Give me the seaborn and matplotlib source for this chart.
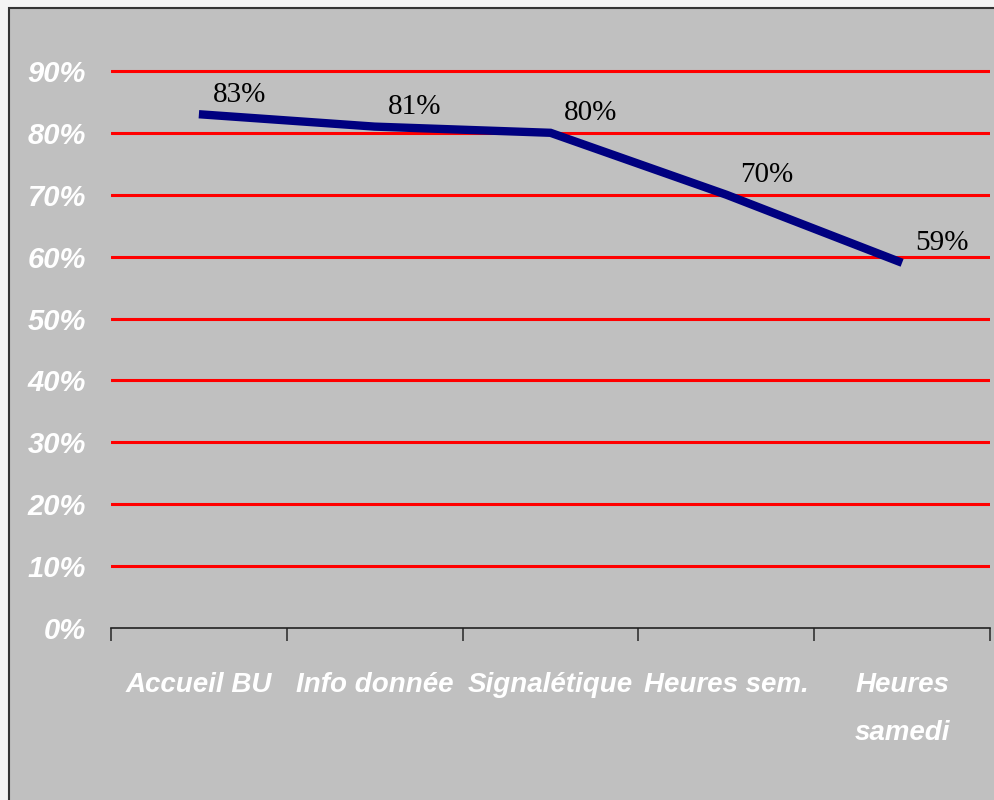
import matplotlib
matplotlib.use("Agg")
import matplotlib.pyplot as plt
import seaborn as sns
import pandas as pd
import numpy as np
from matplotlib.patches import Rectangle
from matplotlib.ticker import FixedLocator

categories = ["Accueil BU", "Info donnée", "Signalétique", "Heures sem.", "Heures\nsamedi"]
values = [0.83, 0.81, 0.80, 0.70, 0.59]
value_labels = ["83%", "81%", "80%", "70%", "59%"]
y_ticks = [0.0, 0.1, 0.2, 0.3, 0.4, 0.5, 0.6, 0.7, 0.8, 0.9]
y_tick_labels = ["0%", "10%", "20%", "30%", "40%", "50%", "60%", "70%", "80%", "90%"]

sns.set_theme(style="white")
plt.rcParams['font.family'] = ['Liberation Sans', 'DejaVu Sans']

W, H = 994, 800
fig = plt.figure(figsize=(W / 100, H / 100), dpi=100)
fig.patch.set_facecolor("#f3f3f3")

# plot-area frame
frame = Rectangle((9 / W, -0.05), 1.1, (H - 8) / H + 0.05, transform=fig.transFigure,
                  facecolor="#c0c0c0", edgecolor="#333333", linewidth=1.5, zorder=-10)
fig.patches.append(frame)

ymax = 0.95
y0 = 628
ytop = y0 - ymax * 619
ax = fig.add_axes([111 / W, (H - y0) / H, (990 - 111) / W, (y0 - ytop) / H])
ax.set_zorder(5)
ax.patch.set_alpha(0)

df = pd.DataFrame({"pos": np.arange(len(categories)), "value": values})

# red gridlines
for yv in y_ticks[1:]:
    ax.axhline(yv, color="#ff0000", linewidth=2.2, zorder=1)

sns.lineplot(data=df, x="pos", y="value", ax=ax, color="#000080", linewidth=6,
             zorder=3, legend=False, solid_capstyle="butt", solid_joinstyle="miter")

for x, v, lab in zip(df["pos"], values, value_labels):
    ax.annotate(lab, (x, v), xytext=(29, 14), textcoords="offset points",
                ha="center", va="center", fontsize=21, color="black",
                family=["Liberation Serif", "DejaVu Serif"], zorder=4)

ax.set_xlim(-0.5, len(categories) - 0.5)
ax.set_ylim(0, ymax)

for s in ["top", "right", "left"]:
    ax.spines[s].set_visible(False)
ax.spines["bottom"].set_color("#222222")
ax.spines["bottom"].set_linewidth(1.2)
ax.spines["bottom"].set_zorder(5)

ax.set_xticks(df["pos"])
ax.set_xticklabels(categories, color="white", fontsize=20, fontweight="bold",
                   fontstyle="italic", linespacing=2.1, va="top")
ax.xaxis.set_minor_locator(FixedLocator(np.arange(-0.5, len(categories), 1.0)))
ax.tick_params(axis="x", which="major", length=0, pad=32)
ax.tick_params(axis="x", which="minor", length=9, width=1.2, color="#333333",
               direction="out", bottom=True)

ax.set_yticks(y_ticks)
ax.set_yticklabels(y_tick_labels, color="white", fontsize=21, fontweight="bold",
                   fontstyle="italic")
ax.tick_params(axis="y", length=0, pad=18)

ax.set_xlabel("")
ax.set_ylabel("")

fig.savefig("out.png", dpi=100, facecolor=fig.get_facecolor())
